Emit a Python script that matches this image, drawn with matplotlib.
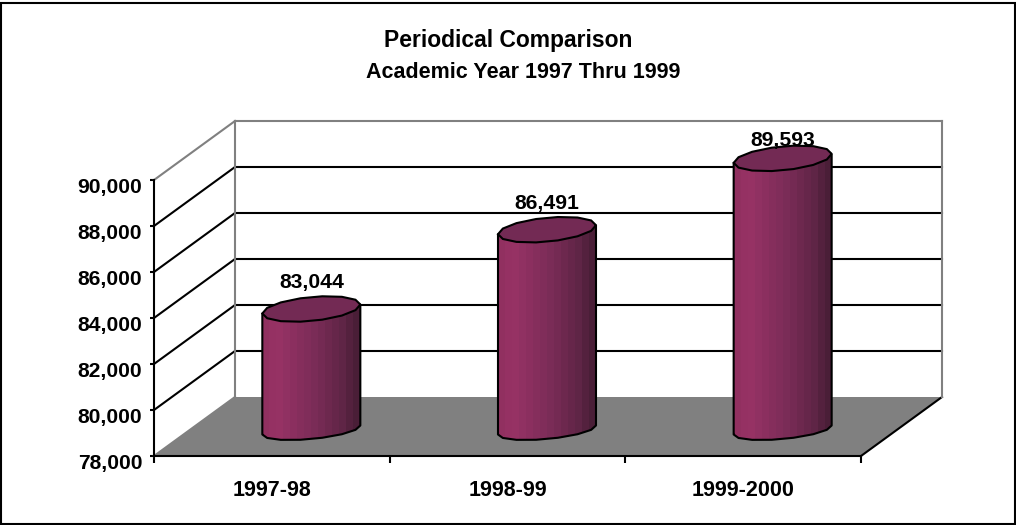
import numpy as np
import matplotlib
matplotlib.use('Agg')
import matplotlib.pyplot as plt
from matplotlib.patches import PathPatch, Polygon, Rectangle
from matplotlib.path import Path
from matplotlib.colors import LinearSegmentedColormap
from matplotlib.transforms import Affine2D, IdentityTransform

years = ['1997-98', '1998-99', '1999-2000']
students = [83044, 86491, 89593]
y_ticks = [78000, 80000, 82000, 84000, 86000, 88000, 90000]

plt.rcParams['font.family'] = ['Liberation Sans', 'DejaVu Sans']
plt.rcParams['font.weight'] = 'bold'
FONT = 15.2
LW = 1.5
DEPTH_X, DEPTH_Y = 81, 59      # wall offset from the front plane, px
CYL_RX, CYL_RY, CYL_TILT = 49, 12, 4.5
px = IdentityTransform()

fig = plt.figure(figsize=(10.16, 5.25), dpi=100)
fig.patch.set_facecolor('white')
fig.add_artist(Rectangle((1 / 1016, 1 / 525), 1014 / 1016, 521 / 525, transform=fig.transFigure,
                         fill=False, edgecolor='black', linewidth=LW))

ax = fig.add_axes([154 / 1016, 69 / 525, 707 / 1016, 276 / 525])
ax.set_xlim(0, 3)
ax.set_ylim(y_ticks[0], y_ticks[-1])
ax.patch.set_visible(False)
for s in ['top', 'right']:
    ax.spines[s].set_visible(False)
for s in ['left', 'bottom']:
    ax.spines[s].set_linewidth(LW)
    ax.spines[s].set_zorder(6)

ax.set_yticks(y_ticks)
ax.set_yticklabels([f'{v:,}' for v in y_ticks], fontsize=FONT)
ax.set_xticks(range(4))
ax.set_xticklabels([])
ax.set_xticks(np.arange(3) + 0.5, years, minor=True, fontsize=15.5)
ax.tick_params(axis='y', which='major', length=3, width=LW, pad=5.5)
ax.tick_params(axis='x', which='major', length=5, width=LW)
ax.tick_params(axis='x', which='minor', length=0, pad=17)
# the value labels sit a little below their ticks
for lab in ax.get_yticklabels():
    lab.set_transform(lab.get_transform() + Affine2D().translate(0, -6))


def to_px(x, y):
    return ax.transData.transform((x, y))


# floor
fl = to_px(0, y_ticks[0])
fr = to_px(3, y_ticks[0])
ax.add_patch(Polygon([fl, fr, fr + (DEPTH_X, DEPTH_Y), fl + (DEPTH_X, DEPTH_Y)], transform=px,
                     facecolor='#808080', edgecolor='none', clip_on=False, zorder=1))
ax.plot([fr[0], fr[0] + DEPTH_X], [fr[1], fr[1] + DEPTH_Y], transform=px, color='black',
        lw=LW, clip_on=False, zorder=2)

# walls and gridlines
for v in y_ticks:
    a = to_px(0, v)
    b = to_px(3, v)
    edge = v in (y_ticks[0], y_ticks[-1])
    ax.plot([a[0], a[0] + DEPTH_X], [a[1], a[1] + DEPTH_Y], transform=px,
            color='#808080' if edge else 'black', lw=LW, clip_on=False, zorder=2)
    if v != y_ticks[0]:
        ax.plot([a[0] + DEPTH_X, b[0] + DEPTH_X], [a[1] + DEPTH_Y, b[1] + DEPTH_Y], transform=px,
                color='#808080' if edge else 'black', lw=LW, clip_on=False, zorder=2)
for x in [0, 3]:
    a = to_px(x, y_ticks[0])
    b = to_px(x, y_ticks[-1])
    ax.plot([a[0] + DEPTH_X, b[0] + DEPTH_X], [a[1] + DEPTH_Y, b[1] + DEPTH_Y], transform=px,
            color='#808080', lw=LW, clip_on=False, zorder=3)

shade = LinearSegmentedColormap.from_list('cyl', [(0, '#913060'), (0.12, '#993366'), (0.55, '#7a2c57'),
                                                  (0.85, '#5f2546'), (1, '#4a1e37')])
grad = shade(np.linspace(0, 1, 14))[np.newaxis, :, :]
# the flat, slightly jagged ends of the original
theta = np.linspace(0, 2 * np.pi, 15)
label_dy = [26, 26, 17.5]

for i, v in enumerate(students):
    top = to_px(i + 0.5, v) + (DEPTH_X / 2 - 1, 31)
    base = to_px(i + 0.5, y_ticks[0]) + (DEPTH_X / 2 - 1, 26)
    ring_x = CYL_RX * np.cos(theta)
    ring_y = CYL_RY * np.sin(theta) + CYL_TILT * np.cos(theta)
    lower = theta[(theta >= np.pi) & (theta <= 2 * np.pi)]
    low_x = base[0] + CYL_RX * np.cos(lower)
    low_y = base[1] + (CYL_RY - 3) * np.sin(lower) + CYL_TILT * np.cos(lower)
    body = np.vstack([
        [top[0] - CYL_RX, top[1] - CYL_TILT],
        [low_x[0] - 0.01, low_y[0]],
        np.column_stack([low_x, low_y]),
        [top[0] + CYL_RX, base[1] + CYL_TILT],
        [top[0] + CYL_RX, top[1] + CYL_TILT],
    ])
    im = ax.imshow(grad, extent=(top[0] - CYL_RX, top[0] + CYL_RX, low_y.min() - 2, top[1] + 20),
                   transform=px, aspect='auto', interpolation='nearest', zorder=4)
    im.set_clip_box(fig.bbox)
    outline = Polygon(body, closed=True, transform=px, facecolor='none', edgecolor='black', lw=LW,
                      clip_on=False, zorder=5, joinstyle='round')
    ax.add_patch(outline)
    im.set_clip_path(Path(np.vstack([body, body[0]])), px)
    ax.add_patch(PathPatch(Path(np.column_stack([top[0] + ring_x, top[1] + ring_y])), transform=px,
                           facecolor='#732a54', edgecolor='black', lw=LW, clip_on=False, zorder=5))
    ax.text(top[0], top[1] + label_dy[i], f'{v:,}', transform=px, ha='center',
            va='center', fontsize=FONT, clip_on=False, zorder=6)

ax.set_xlim(0, 3)
ax.set_ylim(y_ticks[0], y_ticks[-1])

fig.text(508.5 / 1016, 1 - 41 / 525, 'Periodical Comparison', ha='center', va='center', fontsize=16.5)
fig.text(523.5 / 1016, 1 - 73 / 525, 'Academic Year 1997 Thru 1999', ha='center', va='center', fontsize=15.5)

fig.savefig('out.png', dpi=100)
